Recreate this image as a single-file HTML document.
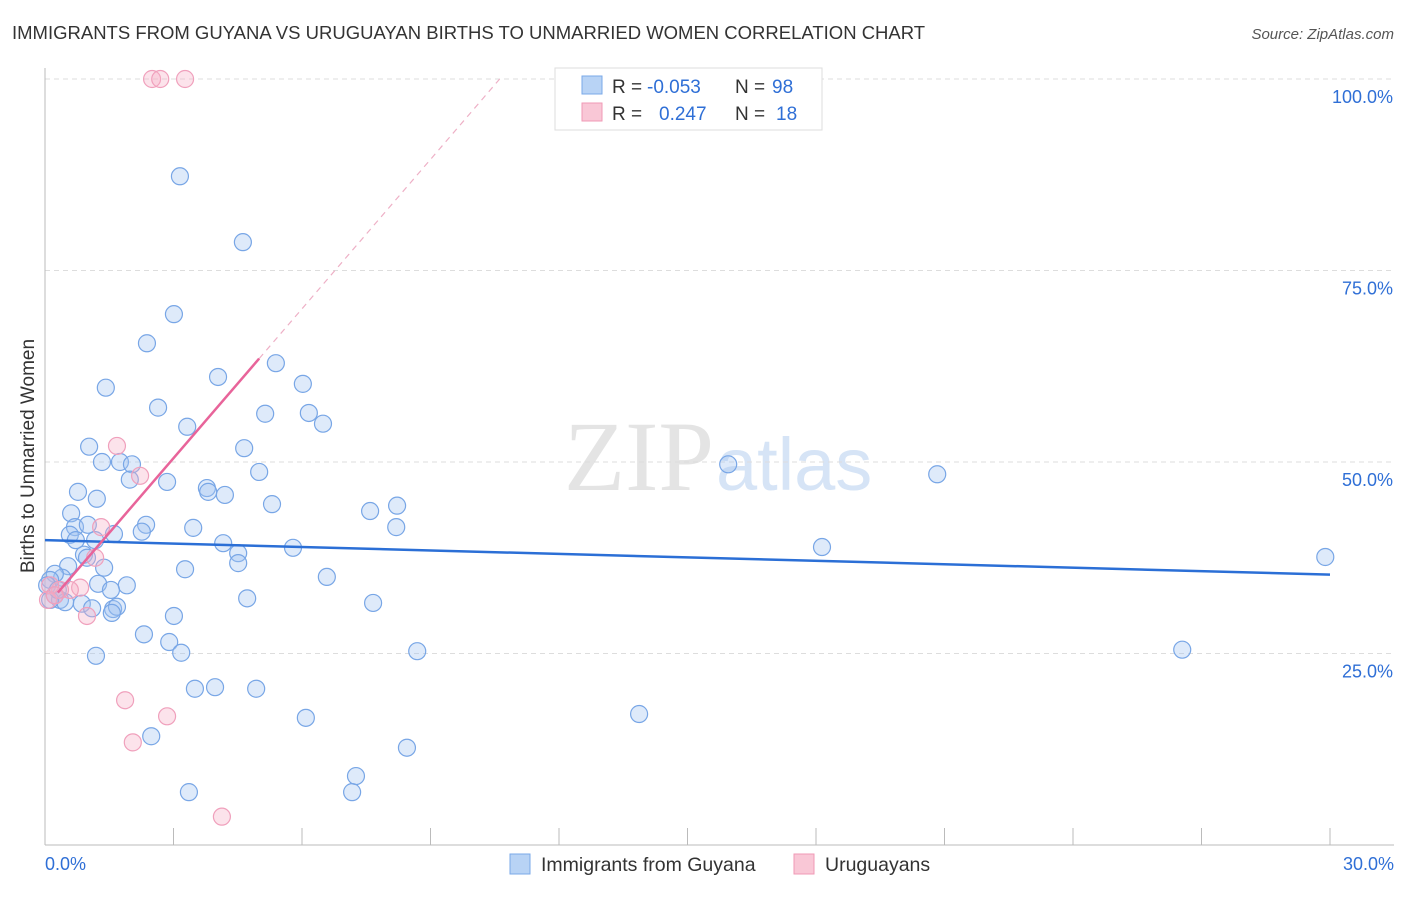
<!DOCTYPE html>
<html><head><meta charset="utf-8"><style>
body{margin:0;background:#fff;font-family:"Liberation Sans",sans-serif}
</style></head><body>
<svg width="1406" height="892" xmlns="http://www.w3.org/2000/svg">
<text x="12" y="39" font-size="18.5" fill="#333">IMMIGRANTS FROM GUYANA VS URUGUAYAN BIRTHS TO UNMARRIED WOMEN CORRELATION CHART</text>
<text x="1394" y="39" font-size="15" fill="#555" font-style="italic" text-anchor="end">Source: ZipAtlas.com</text>
<text x="34" y="456" font-size="19" fill="#333" transform="rotate(-90 34 456)" text-anchor="middle">Births to Unmarried Women</text>
<text x="714" y="490" font-size="100" fill="#e4e4e4" text-anchor="end" font-family="Liberation Serif">ZIP</text>
<text x="716" y="490" font-size="74" fill="#d6e4f6">atlas</text>
<g id="grid"></g><g id="axes"></g><g id="pts"></g><g id="lines"></g>
<g font-size="19">
<rect x="555" y="68" width="267" height="62" fill="#fff" stroke="#ddd"/>
<rect x="582" y="76" width="20" height="18" fill="#b8d3f5" stroke="#7aa8e8"/>
<rect x="582" y="103" width="20" height="18" fill="#f9c7d6" stroke="#f09ab6"/>
<text x="612" y="93" fill="#333">R =</text>
<text x="647" y="93" fill="#2f6fd6">-0.053</text>
<text x="735" y="93" fill="#333">N =</text>
<text x="772" y="93" fill="#2f6fd6">98</text>
<text x="612" y="120" fill="#333">R =</text>
<text x="659" y="120" fill="#2f6fd6">0.247</text>
<text x="735" y="120" fill="#333">N =</text>
<text x="776" y="120" fill="#2f6fd6">18</text>
</g>
<g>
<rect x="510" y="854" width="20" height="20" fill="#b8d3f5" stroke="#7aa8e8"/>
<text x="541" y="871" font-size="19.5" fill="#333">Immigrants from Guyana</text>
<rect x="794" y="854" width="20" height="20" fill="#f9c7d6" stroke="#f09ab6"/>
<text x="825" y="871" font-size="19.5" fill="#333">Uruguayans</text>
</g>
</svg>
<script>
const blueX=[3.15,4.62,3.01,2.38,5.39,4.04,6.02,1.42,2.64,5.14,6.16,6.49,3.32,1.03,4.65,1.33,1.75,2.03,5.0,15.95,20.83,1.98,2.85,3.78,3.81,4.2,0.77,1.21,5.3,7.59,8.22,0.61,0.7,1.0,2.36,3.46,8.2,0.58,0.72,1.17,1.61,2.26,4.16,5.79,18.14,0.91,0.98,29.89,4.51,4.51,1.38,3.27,6.58,0.54,0.4,0.23,0.12,1.24,1.91,1.54,4.72,7.66,0.23,0.35,0.47,0.86,1.1,1.59,1.68,1.56,3.01,2.31,2.9,1.19,3.18,8.69,26.55,3.5,3.97,4.93,6.09,13.87,2.48,8.45,7.26,3.36,7.17,0.12,0.05,0.3];
const blueY=[87.3,78.7,69.3,65.5,62.9,61.1,60.2,59.7,57.1,56.3,56.4,55.0,54.6,52.0,51.8,50.0,50.0,49.7,48.7,49.7,48.4,47.7,47.4,46.6,46.1,45.7,46.1,45.2,44.5,43.6,44.3,43.3,41.5,41.8,41.8,41.4,41.5,40.5,39.8,39.8,40.6,40.9,39.4,38.8,38.9,37.9,37.5,37.6,38.1,36.8,36.2,36.0,35.0,36.4,34.9,35.4,34.6,34.1,33.9,33.3,32.2,31.6,32.6,32.0,31.7,31.5,30.9,30.8,31.1,30.3,29.9,27.5,26.5,24.7,25.1,25.3,25.5,20.4,20.6,20.4,16.6,17.1,14.2,12.7,9.0,6.9,6.9,32.0,33.9,33.3];
const pinkX=[2.5,2.69,3.27,1.68,2.22,1.31,1.17,0.82,0.58,0.35,0.12,0.07,0.98,1.87,2.85,2.05,4.13,0.23];
const pinkY=[100,100,100,52.1,48.2,41.5,37.5,33.6,33.3,33.3,33.9,32.0,29.9,18.9,16.8,13.4,3.7,32.6];
const blueTrend=[0,39.8,30,35.3];
const pinkTrend=[0.3,31.0,6.5];
const yTicks=[25,50,75,100];
const xTickLabels=["0.0%","30.0%"];
const NS="http://www.w3.org/2000/svg";
const X=v=>45+v*1285/30, Y=v=>845-v*7.66;
function mk(tag,attrs,parent){const e=document.createElementNS(NS,tag);for(const k in attrs)e.setAttribute(k,attrs[k]);document.getElementById(parent).appendChild(e);return e;}
for(const t of yTicks){
 const l=mk('line',{x1:45,x2:1394,y1:Y(t),y2:Y(t),stroke:'#ddd','stroke-dasharray':'5,4'},'grid');
 
 
 const tx=mk('text',{x:1393,y:Y(t)+24,'font-size':18,fill:'#2f6fd6','text-anchor':'end'},'grid');
 tx.textContent=t.toFixed(1)+'%';
 
 
}
mk('line',{x1:45,x2:45,y1:68,y2:845,stroke:'#bbb'},'axes');
mk('line',{x1:45,x2:1394,y1:845,y2:845,stroke:'#bbb'},'axes');
for(let i=0;i<=10;i++){const x=45+i*128.5;mk('line',{x1:x,x2:x,y1:828,y2:845,stroke:'#bbb'},'axes');}
const l0=mk('text',{x:45,y:870,'font-size':18,fill:'#2f6fd6'},'axes');l0.textContent=xTickLabels[0];


const l1=mk('text',{x:1394,y:870,'font-size':18,fill:'#2f6fd6','text-anchor':'end'},'axes');l1.textContent=xTickLabels[1];


blueX.forEach((v,i)=>{const c=mk('circle',{cx:X(v),cy:Y(blueY[i]),r:8.5,fill:'rgba(160,196,240,0.35)',stroke:'#78a6e6','stroke-width':1.2},'pts');
 
 });
pinkX.forEach((v,i)=>{const c=mk('circle',{cx:X(v),cy:Y(pinkY[i]),r:8.5,fill:'rgba(245,175,198,0.35)',stroke:'#f0a0bc','stroke-width':1.2},'pts');
 
 });
const bt=mk('line',{x1:X(blueTrend[0]),y1:Y(blueTrend[1]),x2:X(blueTrend[2]),y2:Y(blueTrend[3]),stroke:'#2b6fd6','stroke-width':2.5},'lines');


const pf=x=>pinkTrend[1]+pinkTrend[2]*x;
const x5=5.0, xe=(100-pinkTrend[1])/pinkTrend[2];
const ps=mk('line',{x1:X(pinkTrend[0]),y1:Y(pf(pinkTrend[0])),x2:X(x5),y2:Y(pf(x5)),stroke:'#e8649a','stroke-width':2.5},'lines');


const pd=mk('line',{x1:X(x5),y1:Y(pf(x5)),x2:X(xe),y2:Y(100),stroke:'#eeb0c6','stroke-width':1.2,'stroke-dasharray':'6,5'},'lines');


</script>
</body></html>
